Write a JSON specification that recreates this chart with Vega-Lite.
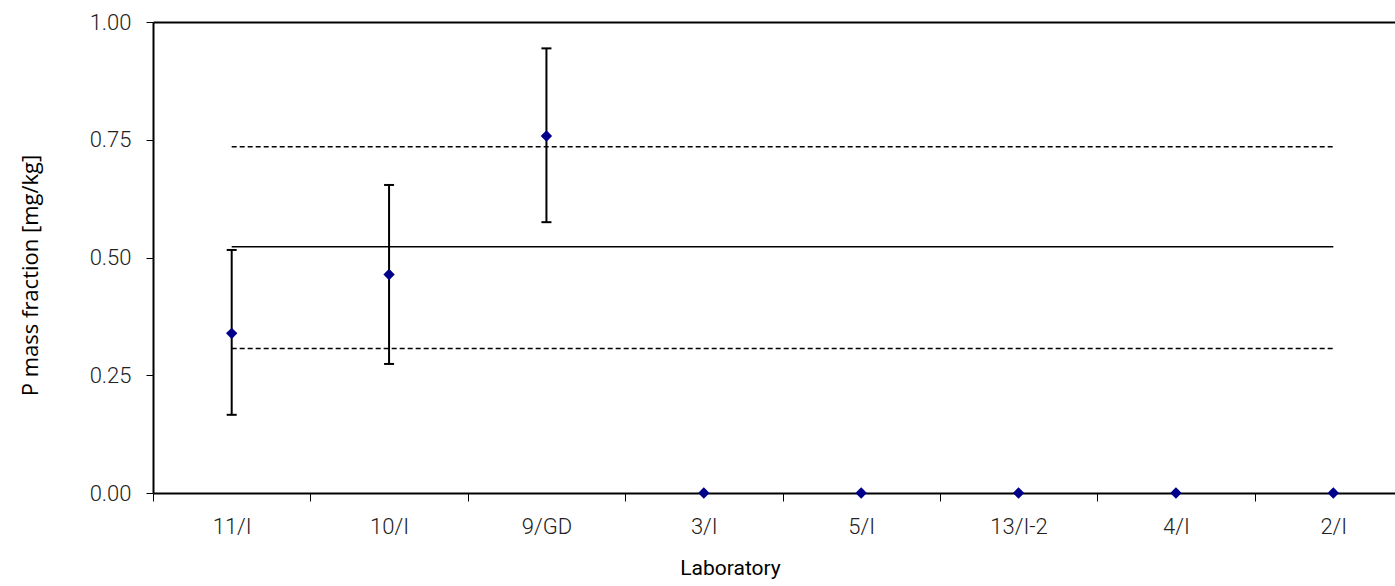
{
  "$schema": "https://vega.github.io/schema/vega-lite/v6.json",
  "autosize": "none",
  "width": 1242,
  "height": 471,
  "padding": {"top": 22, "left": 153, "right": 0, "bottom": 93},
  "background": "white",
  "config": {
    "view": {"stroke": null},
    "font": "Roboto",
    "axis": {
      "labelFont": "Roboto",
      "labelFontWeight": 300,
      "labelFontSize": 22,
      "labelColor": "#222222",
      "titleFont": "Roboto",
      "titleFontWeight": 400,
      "titleFontSize": 20,
      "titleColor": "#000000",
      "domainColor": "#000000",
      "domainWidth": 2,
      "tickColor": "#000000",
      "tickWidth": 1,
      "grid": false
    }
  },
  "datasets": {
    "labs": [
      {"lab": "11/I", "value": 0.339, "lo": 0.166, "hi": 0.516},
      {"lab": "10/I", "value": 0.464, "lo": 0.274, "hi": 0.654},
      {"lab": "9/GD", "value": 0.758, "lo": 0.575, "hi": 0.944},
      {"lab": "3/I", "value": 0.0, "lo": null, "hi": null},
      {"lab": "5/I", "value": 0.0, "lo": null, "hi": null},
      {"lab": "13/I-2", "value": 0.0, "lo": null, "hi": null},
      {"lab": "4/I", "value": 0.0, "lo": null, "hi": null},
      {"lab": "2/I", "value": 0.0, "lo": null, "hi": null}
    ],
    "refs": [
      {"kind": "mean", "value": 0.523, "from": "11/I", "to": "2/I"},
      {"kind": "upper", "value": 0.735, "from": "11/I", "to": "2/I"},
      {"kind": "lower", "value": 0.307, "from": "11/I", "to": "2/I"}
    ]
  },
  "resolve": {"axis": {"x": "independent"}},
  "layer": [
    {
      "data": {"name": "refs"},
      "mark": {"type": "rule", "color": "#000000", "strokeWidth": 1.5},
      "encoding": {
        "x": {
          "field": "from", "type": "nominal",
          "scale": {"domain": ["11/I", "10/I", "9/GD", "3/I", "5/I", "13/I-2", "4/I", "2/I"], "range": [0, 1259], "paddingInner": 0, "paddingOuter": 0},
          "axis": {"orient": "top", "labels": false, "ticks": false, "title": null, "domain": true}
        },
        "x2": {"field": "to"},
        "y": {
          "field": "value", "type": "quantitative",
          "scale": {"domain": [0, 1], "nice": false, "zero": true},
          "axis": {
            "title": "P mass fraction [mg/kg]",
            "titleFont": "Open Sans",
            "titleFontWeight": 500,
            "titleFontSize": 22,
            "titleY": 253,
            "values": [0, 0.25, 0.5, 0.75, 1],
            "format": ".2f",
            "tickSize": 7,
            "labelPadding": 15,
            "titlePadding": 47
          }
        },
        "strokeDash": {
          "field": "kind", "type": "nominal",
          "scale": {"domain": ["mean", "upper", "lower"], "range": [[1, 0], [5, 3], [5, 3]]},
          "legend": null
        }
      }
    },
    {
      "data": {"name": "labs"},
      "transform": [{"filter": "datum.lo != null"}],
      "mark": {"type": "rule", "color": "#000000", "strokeWidth": 2},
      "encoding": {
        "x": {"field": "lab", "type": "nominal", "axis": null},
        "y": {"field": "lo", "type": "quantitative"},
        "y2": {"field": "hi"}
      }
    },
    {
      "data": {"name": "labs"},
      "transform": [{"filter": "datum.lo != null"}],
      "mark": {"type": "tick", "color": "#000000", "thickness": 2, "size": 10, "opacity": 1},
      "encoding": {
        "x": {"field": "lab", "type": "nominal", "axis": null},
        "y": {"field": "lo", "type": "quantitative"}
      }
    },
    {
      "data": {"name": "labs"},
      "transform": [{"filter": "datum.lo != null"}],
      "mark": {"type": "tick", "color": "#000000", "thickness": 2, "size": 10, "opacity": 1},
      "encoding": {
        "x": {"field": "lab", "type": "nominal", "axis": null},
        "y": {"field": "hi", "type": "quantitative"}
      }
    },
    {
      "data": {"name": "labs"},
      "mark": {"type": "point", "shape": "diamond", "filled": true, "color": "#00008B", "size": 130, "opacity": 1},
      "encoding": {
        "x": {
          "field": "lab", "type": "nominal",
          "axis": {
            "title": "Laboratory",
            "titleFontWeight": 400,
            "titleFontSize": 21,
            "titleX": 577,
            "labelAngle": 0,
            "tickBand": "extent",
            "tickSize": 8,
            "labelPadding": 15,
            "titlePadding": 20
          }
        },
        "y": {"field": "value", "type": "quantitative"}
      }
    }
  ]
}
